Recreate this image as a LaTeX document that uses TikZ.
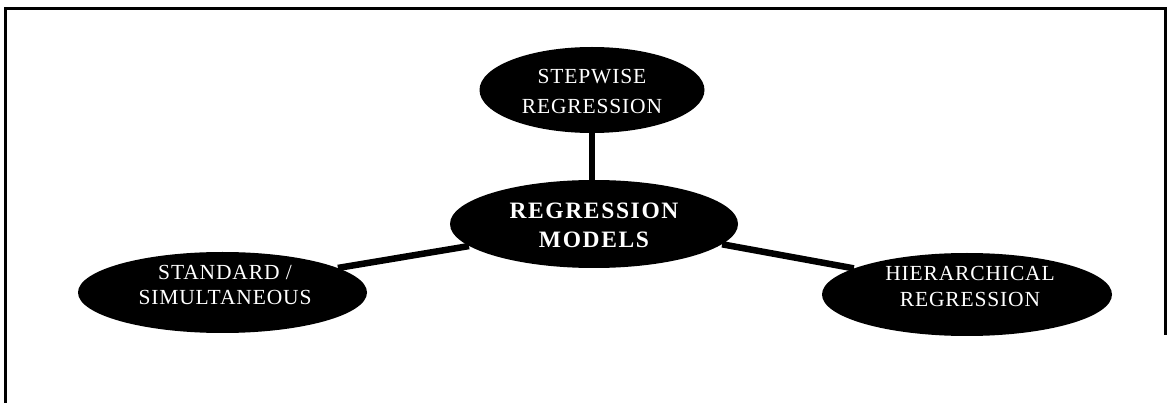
\documentclass[tikz,border=0pt]{standalone}
\usepackage{fontspec}
\setmainfont{Liberation Serif}
\newfontfamily\smallcapsfont[LetterSpace=4]{Liberation Serif}
\newfontfamily\bigfont[LetterSpace=7]{Liberation Serif}
\usetikzlibrary{shapes.geometric,backgrounds}
\begin{document}
\begin{tikzpicture}[x=1pt,y=-1pt,
  blob/.style={ellipse,fill=black,draw=none,inner sep=0pt},
  lbl/.style={text=white,align=center,inner sep=0pt},
  mainlbl/.style={text=white,align=center,inner sep=0pt,font=\bigfont\bfseries\fontsize{23.5}{29}\selectfont},
  link/.style={line width=6.5pt,black},
  frame/.style={line width=3pt,black}]
\useasboundingbox (0,0) rectangle (1168,403);
% frame (open at the bottom)
\coordinate (f1) at (5,403);
\coordinate (f2) at (5,9);
\coordinate (f3) at (1165,9);
\coordinate (f4) at (1165,335);
\draw[frame] (f1) -- (f2) -- (f3) -- (f4);
% ellipses
\node[blob,minimum width=225pt,minimum height=86pt] (S) at (592,90) {};
\node[blob,minimum width=288pt,minimum height=88pt] (C) at (594,224) {};
\node[blob,minimum width=289pt,minimum height=81pt] (L) at (222.5,292.5) {};
\node[blob,minimum width=290pt,minimum height=83pt] (R) at (967,294.5) {};
% connectors (behind ellipses)
\begin{scope}[on background layer]
\draw[link] (S.center) -- (S.center |- C.center);
\draw[link] (L.12) -- (C.190);
\draw[link] (C.351) -- (R.167);
\end{scope}
% texts
\node[lbl,font=\smallcapsfont\fontsize{21.5}{30}\selectfont] (tS) at (592,91) {STEPWISE\\REGRESSION};
\node[mainlbl] (tC) at (594,225) {REGRESSION\\MODELS};
\node[lbl,font=\smallcapsfont\fontsize{21.5}{25}\selectfont] (tL) at (225,285) {STANDARD /\\SIMULTANEOUS};
\node[lbl,font=\smallcapsfont\fontsize{21.5}{26}\selectfont] (tR) at (970,286.5) {HIERARCHICAL\\REGRESSION};
\end{tikzpicture}
\end{document}
